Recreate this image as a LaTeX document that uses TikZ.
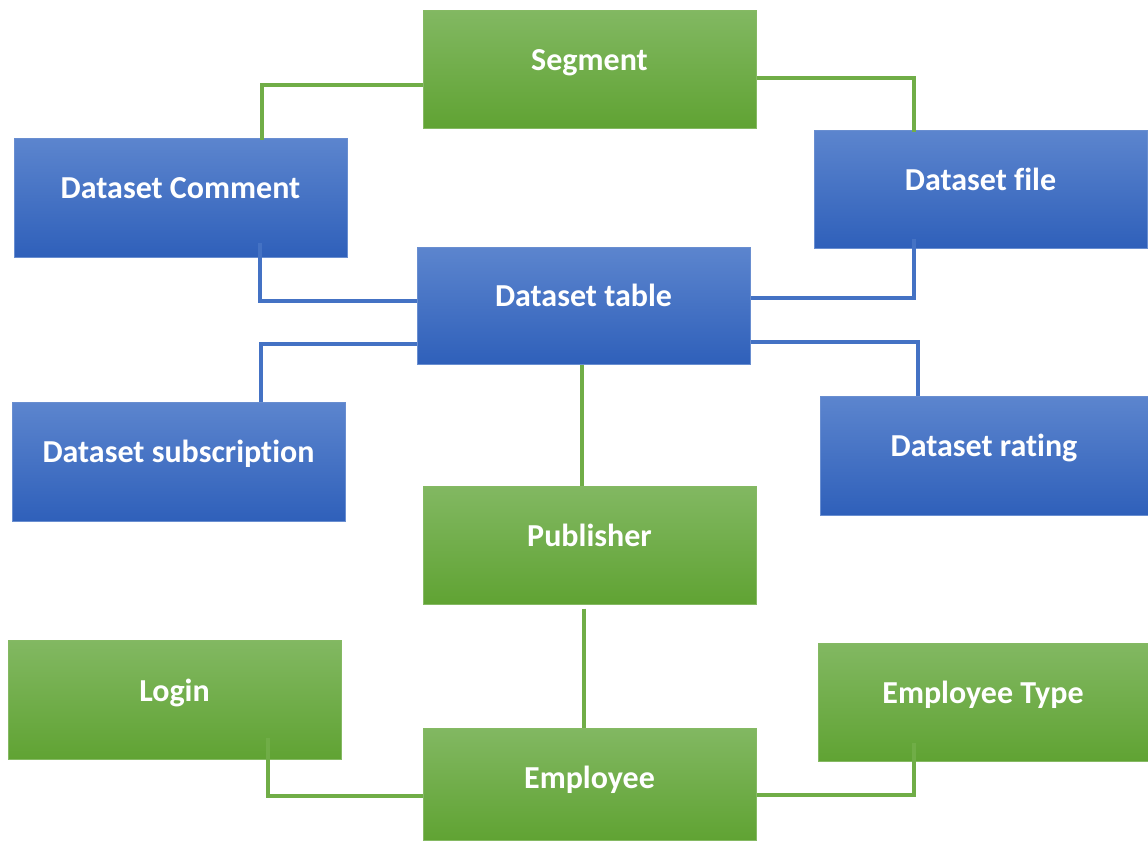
\documentclass[tikz,border=0pt]{standalone}
\usepackage{fontspec}
\setmainfont[Ligatures=NoCommon]{Carlito}
\definecolor{bluetop}{HTML}{5C85CE}
\definecolor{bluebot}{HTML}{2F60BA}
\definecolor{blueline}{HTML}{4472C4}
\definecolor{greentop}{HTML}{82B862}
\definecolor{greenbot}{HTML}{60A333}
\definecolor{greenline}{HTML}{70AD47}
\tikzset{
  box/.style={rectangle, inner sep=0pt, minimum width=333pt, minimum height=118pt, line width=1pt},
  bluebox/.style={box, draw=blueline!80!white, top color=bluetop, bottom color=bluebot},
  greenbox/.style={box, draw=greenline!85!white, top color=greentop, bottom color=greenbot},
  lbl/.style={text=white, font=\fontsize{32}{36}\selectfont\bfseries, anchor=mid},
  bconn/.style={draw=blueline, line width=3.5pt},
  gconn/.style={draw=greenline, line width=3.5pt},
}
\begin{document}
\begin{tikzpicture}[x=1pt,y=-1pt]
\useasboundingbox (0,0) rectangle (1148,841);
\node[greenbox, label={[lbl,yshift=-59pt]north:Segment}] (seg) at (589.5,69) {};
\node[bluebox, minimum height=119pt, label={[lbl,yshift=-59pt]north:Dataset Comment}] (com) at (180.5,197.5) {};
\node[bluebox, label={[lbl,yshift=-59pt]north:Dataset file}] (file) at (980.5,189) {};
\node[bluebox, minimum height=117pt, label={[lbl,yshift=-58pt]north:Dataset table}] (tab) at (583.5,305.5) {};
\node[bluebox, minimum height=119pt, label={[lbl,yshift=-59pt]north:Dataset subscription}] (sub) at (178.5,461.5) {};
\node[bluebox, minimum width=328pt, minimum height=119pt, label={[lbl,yshift=-59pt]north:Dataset rating}] (rat) at (984,455.5) {};
\node[greenbox, label={[lbl,yshift=-59pt]north:Publisher}] (pub) at (589.5,545) {};
\node[greenbox, minimum height=119pt, label={[lbl,yshift=-60pt]north:Login}] (log) at (174.5,699.5) {};
\node[greenbox, minimum width=330pt, label={[lbl,yshift=-59pt]north:Employee Type}] (typ) at (983,702) {};
\node[greenbox, minimum height=112pt, label={[lbl,yshift=-59pt]north:Employee}] (emp) at (589.5,784) {};

\draw[gconn] ([yshift=-16pt]seg.west) -| ([xshift=81.5pt,yshift=-2pt]com.north);
\draw[gconn] ([yshift=-9pt]seg.east) -| ([xshift=-66.5pt,yshift=-2pt]file.north);
\draw[bconn] ([xshift=79.5pt,yshift=15pt]com.south) |- ([yshift=4.5pt]tab.west);
\draw[bconn] ([xshift=-66.5pt,yshift=10pt]file.south) |- ([yshift=7.5pt]tab.east);
\draw[bconn] ([yshift=-38.5pt]tab.west) -| ([xshift=82.5pt]sub.north);
\draw[bconn] ([yshift=-36.5pt]tab.east) -| ([xshift=-66pt]rat.north);
\draw[gconn] ([xshift=-1.5pt]tab.south) -- ([xshift=-7.5pt]pub.north);
\draw[gconn] ([xshift=-5.5pt,yshift=-4pt]pub.south) -- ([xshift=-5.5pt]emp.north);
\draw[gconn] ([xshift=93.5pt,yshift=22pt]log.south) |- ([yshift=-12pt]emp.west);
\draw[gconn] ([xshift=-69pt,yshift=19pt]typ.south) |- ([yshift=-11pt]emp.east);
\end{tikzpicture}
\end{document}
